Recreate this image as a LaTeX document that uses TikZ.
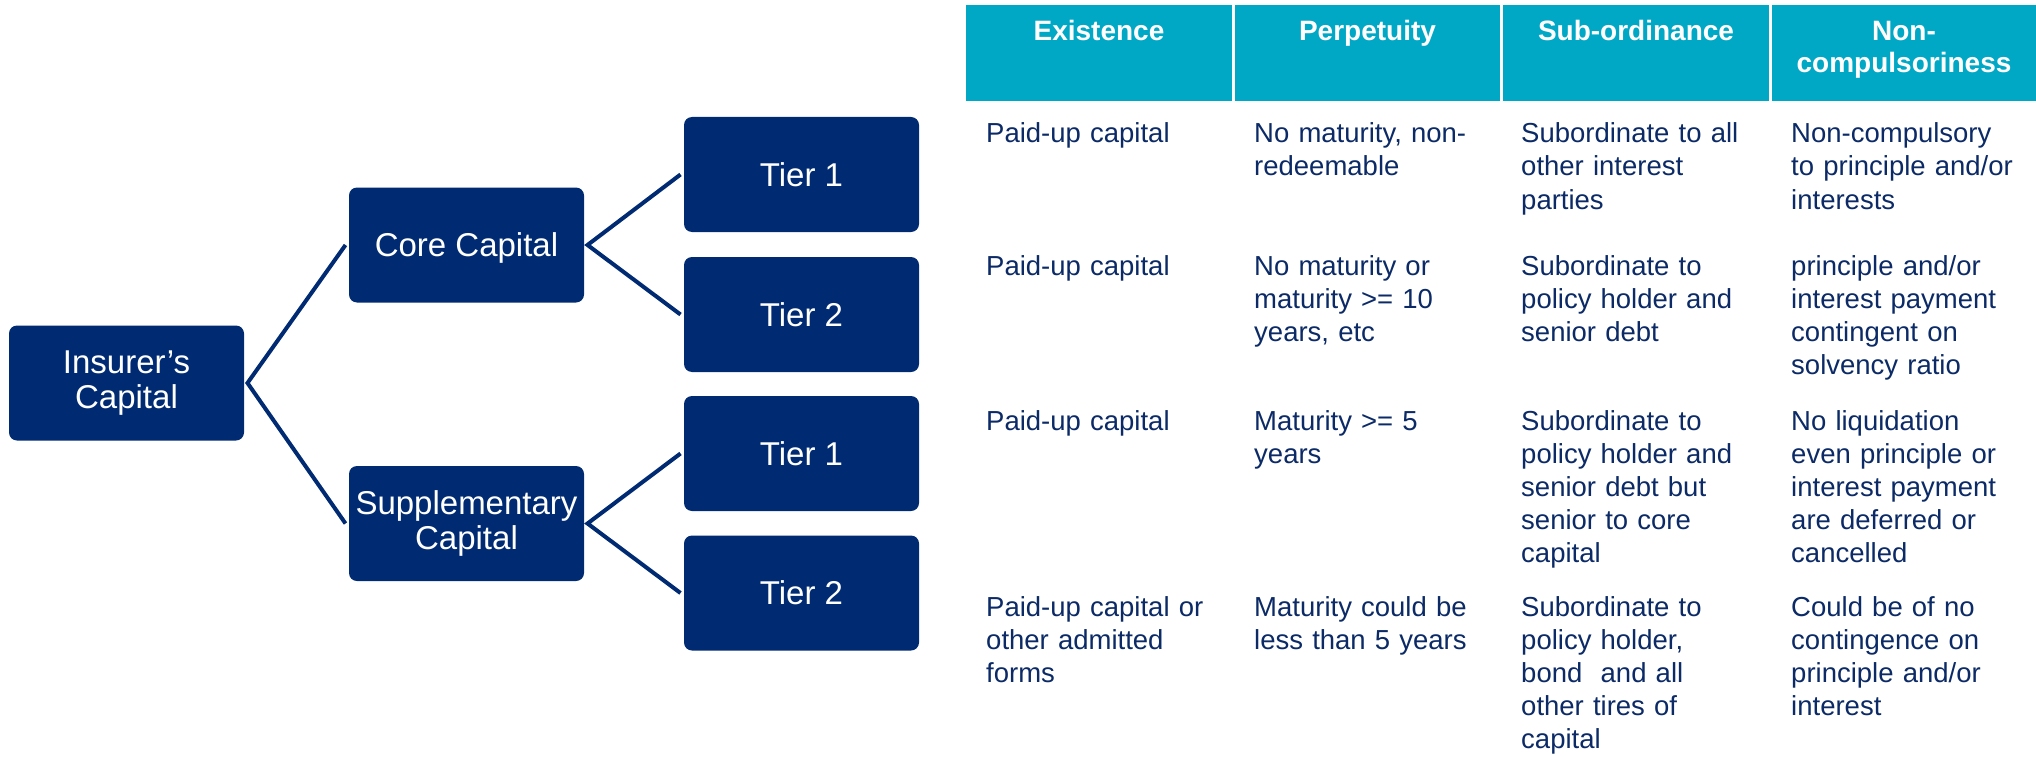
\documentclass[tikz,border=0pt]{standalone}
\usepackage{fontspec}
\setmainfont{Liberation Sans}
\definecolor{boxblue}{HTML}{002B73}
\definecolor{txtblue}{HTML}{0B2A66}
\definecolor{hdrteal}{HTML}{00A8C6}

\begin{document}
\begin{tikzpicture}[x=1pt,y=-1pt,
  box/.style={fill=boxblue, rounded corners=8pt, minimum width=235pt,
    minimum height=115pt, inner sep=0pt, outer sep=3.5pt, text=white,
    align=center, font=\fontsize{33}{35}\selectfont},
  onerow/.style={text depth=0pt},
  link/.style={draw=boxblue, line width=4pt},
  hdrcell/.style={fill=hdrteal},
  head/.style={text=white, font=\bfseries\fontsize{28}{32}\selectfont,
    align=center, anchor=base, inner sep=0pt, text width=250pt},
  cell/.style={text=txtblue, font=\fontsize{27.5}{33.2}\selectfont,
    align=left, anchor=base west, inner sep=0pt, text width=250pt}]
\useasboundingbox (0,0) rectangle (2036,757);

% capital tree
\node[box] (ins) at (126.5,383) {Insurer’s\\Capital};
\node[box, onerow] (core) at (466.5,245) {Core Capital};
\node[box] (supp) at (466.5,523.5) {Supplementary\\Capital};
\node[box, onerow] (c1) at (801.5,174.5) {Tier 1};
\node[box, onerow] (c2) at (801.5,314.5) {Tier 2};
\node[box, onerow] (s1) at (801.5,453.5) {Tier 1};
\node[box, onerow] (s2) at (801.5,593) {Tier 2};

\draw[link] (core.west) -- (ins.east) -- (supp.west);
\draw[link] (c1.west) -- (core.east) -- (c2.west);
\draw[link] (s1.west) -- (supp.east) -- (s2.west);

% table header
\fill[hdrcell] (966,5) rectangle (1232,101);
\fill[hdrcell] (1235,5) rectangle (1500,101);
\fill[hdrcell] (1503,5) rectangle (1769,101);
\fill[hdrcell] (1772,5) rectangle (2036,101);
\node[head] (h1) at (1099,41) {Existence};
\node[head] (h2) at (1367.5,41) {Perpetuity};
\node[head] (h3) at (1636,41) {Sub-ordinance};
\node[head] (h4) at (1904,41) {Non-\\compulsoriness};

% table body
\node[cell] (r1a) at (986,142.7) {Paid-up capital};
\node[cell] (r1b) at (1254,142.7) {No maturity, non-\\redeemable};
\node[cell] (r1c) at (1521,142.7) {Subordinate to all\\other interest\\parties};
\node[cell] (r1d) at (1791,142.7) {Non-compulsory\\to principle and/or\\interests};

\node[cell] (r2a) at (986,275) {Paid-up capital};
\node[cell] (r2b) at (1254,275) {No maturity or\\maturity >= 10\\years, etc};
\node[cell] (r2c) at (1521,275) {Subordinate to\\policy holder and\\senior debt};
\node[cell] (r2d) at (1791,275) {principle and/or\\interest payment\\contingent on\\solvency ratio};

\node[cell] (r3a) at (986,430) {Paid-up capital};
\node[cell] (r3b) at (1254,430) {Maturity >= 5\\years};
\node[cell] (r3c) at (1521,430) {Subordinate to\\policy holder and\\senior debt but\\senior to core\\capital};
\node[cell] (r3d) at (1791,430) {No liquidation\\even principle or\\interest payment\\are deferred or\\cancelled};

\node[cell] (r4a) at (986,616) {Paid-up capital or\\other admitted\\forms};
\node[cell] (r4b) at (1254,616) {Maturity could be\\less than 5 years};
\node[cell] (r4c) at (1521,616) {Subordinate to\\policy holder,\\bond~ and all\\other tires of\\capital};
\node[cell] (r4d) at (1791,616) {Could be of no\\contingence on\\principle and/or\\interest};
\end{tikzpicture}
\end{document}
